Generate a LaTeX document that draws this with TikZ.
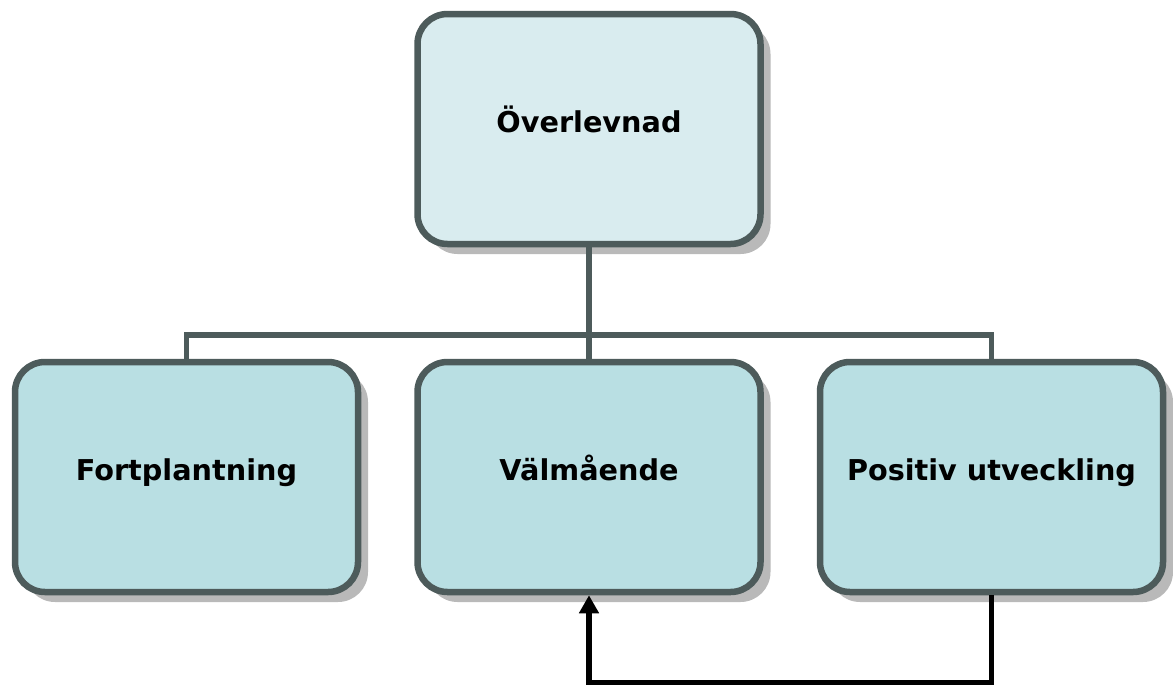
\documentclass[tikz,border=0pt]{standalone}
\usepackage{fontspec}
\setmainfont{DejaVu Sans}
\usetikzlibrary{arrows.meta,positioning,shadows}
\definecolor{boxline}{HTML}{4D5B5B}
\definecolor{topfill}{HTML}{D9ECEF}
\definecolor{subfill}{HTML}{B9DFE3}
\tikzset{
  orgbox/.style={draw=boxline, line width=6.5pt, rounded corners=30pt, fill=subfill, minimum width=343pt, minimum height=230pt,
                 text height=18pt, text depth=12pt,
                 font=\fontsize{28.7}{34}\selectfont\bfseries, drop shadow={shadow xshift=10pt, shadow yshift=-10pt, fill=gray!55, opacity=1}},
  rootbox/.style={fill=topfill},
  branch/.style={draw=boxline, line width=5.5pt},
  feedback/.style={-{Triangle[length=18pt,width=19pt]}, line width=5.5pt, black}
}

\begin{document}
\begin{tikzpicture}[x=1pt, y=1pt]
\useasboundingbox (0,0) rectangle (1173,-686);
\node[orgbox, rootbox] (root) at (589,-129) {Överlevnad};
\node[orgbox] (val) at (589,-477) {Välmående};
\node[orgbox, left=53pt of val] (fort) {Fortplantning};
\node[orgbox, right=53pt of val] (pos) {Positiv utveckling};
\draw[branch] (root.south) -- (val.north);
\draw[branch] (fort.north) -- ++(0,24) -| (pos.north);
\draw[feedback] (pos.south) -- ++(0,-87) -| (val.south);
\end{tikzpicture}
\end{document}
